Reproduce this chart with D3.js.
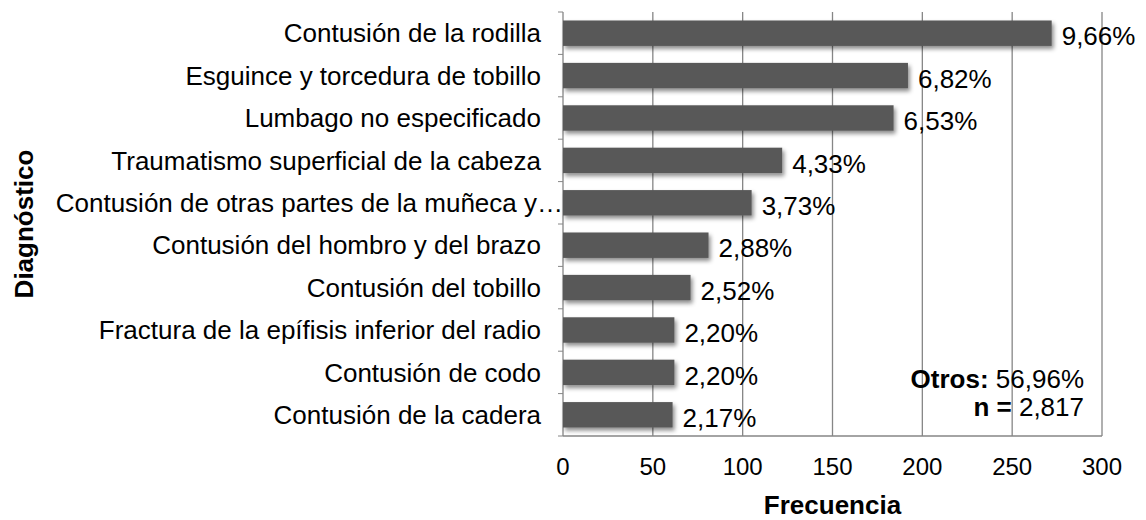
<!DOCTYPE html>
<html>
<head>
<meta charset="utf-8">
<script src="https://cdn.jsdelivr.net/npm/d3@7"></script>
<style>
  body { margin: 0; background: #fff; }
  text { font-family: "Liberation Sans", Arial, sans-serif; fill: #000; }
</style>
</head>
<body>
<div id="cntr"></div>
<script>
const width = 1146;
const height = 520;

// data: share of n = 2817
const diagnosticos = [
    "Contusión de la rodilla",
    "Esguince y torcedura de tobillo",
    "Lumbago no especificado",
    "Traumatismo superficial de la cabeza",
    "Contusión de otras partes de la muñeca y…",
    "Contusión del hombro y del brazo",
    "Contusión del tobillo",
    "Fractura de la epífisis inferior del radio",
    "Contusión de codo",
    "Contusión de la cadera"
];
const porcentajes = [9.66, 6.82, 6.53, 4.33, 3.73, 2.88, 2.52, 2.20, 2.20, 2.17];
const frecuencias = [272, 192, 184, 122, 105, 81, 71, 62, 62, 61];
const xTicks = [0, 50, 100, 150, 200, 250, 300];
const otros = "56,96%";
const nTotal = "2,817";

const margin = {top: 12, right: 44, bottom: 84, left: 563};
const innerW = width - margin.left - margin.right;
const innerH = height - margin.top - margin.bottom;

const svg = d3.select("#cntr")
    .append("svg")
    .attr("width", width)
    .attr("height", height);

const defs = svg.append("defs");
const shadow = defs.append("filter")
    .attr("id", "shadow")
    .attr("x", "-5%").attr("y", "-30%")
    .attr("width", "115%").attr("height", "180%");
shadow.append("feDropShadow")
    .attr("dx", 2).attr("dy", 3)
    .attr("stdDeviation", 2.2)
    .attr("flood-color", "#000")
    .attr("flood-opacity", 0.45);

const g = svg.append("g")
    .attr("transform", `translate(${margin.left},${margin.top})`);

const x = d3.scaleLinear().domain([0, 300]).range([0, innerW]);
const y = d3.scaleBand().domain(diagnosticos).range([0, innerH]).paddingInner(0.4).paddingOuter(0.2);

// grid
g.selectAll("line.grid")
    .data(xTicks)
    .join("line")
        .attr("class", "grid")
        .attr("x1", d => x(d)).attr("x2", d => x(d))
        .attr("y1", 0).attr("y2", innerH)
        .attr("stroke", "#868686")
        .attr("stroke-width", 1.3);

g.append("line")
    .attr("x1", 0).attr("x2", innerW)
    .attr("y1", innerH).attr("y2", innerH)
    .attr("stroke", "#868686")
    .attr("stroke-width", 1.3);

// small ticks on the category axis
const step = innerH / diagnosticos.length;
g.selectAll("line.ytick")
    .data(d3.range(diagnosticos.length + 1))
    .join("line")
        .attr("class", "ytick")
        .attr("x1", -5).attr("x2", 0)
        .attr("y1", i => i * step).attr("y2", i => i * step)
        .attr("stroke", "#868686");

// bars
g.selectAll("rect.bar")
    .data(frecuencias)
    .join("rect")
        .attr("class", "bar")
        .attr("x", 0)
        .attr("y", (d, i) => y(diagnosticos[i]))
        .attr("width", d => x(d))
        .attr("height", y.bandwidth())
        .attr("fill", "#595959")
        .attr("filter", "url(#shadow)");

// value labels
g.selectAll("text.val")
    .data(porcentajes)
    .join("text")
        .attr("class", "val")
        .attr("x", (d, i) => x(frecuencias[i]) + 10)
        .attr("y", (d, i) => y(diagnosticos[i]) + y.bandwidth() / 2 + 3)
        .attr("dy", "0.35em")
        .style("font-size", "26px")
        .text(d => d.toFixed(2).replace(".", ",") + "%");

// category labels (the truncated one runs up to the axis)
g.selectAll("text.cat")
    .data(diagnosticos)
    .join("text")
        .attr("class", "cat")
        .attr("x", d => d.endsWith("…") ? 0 : -22)
        .attr("y", d => y(d) + y.bandwidth() / 2)
        .attr("dy", "0.35em")
        .attr("text-anchor", "end")
        .style("font-size", "26px")
        .text(d => d);

// x tick labels
g.selectAll("text.xt")
    .data(xTicks)
    .join("text")
        .attr("class", "xt")
        .attr("x", d => x(d))
        .attr("y", innerH + 31)
        .attr("dy", "0.35em")
        .attr("text-anchor", "middle")
        .style("font-size", "24px")
        .text(d => d);

g.append("text")
    .attr("x", innerW / 2)
    .attr("y", innerH + 69)
    .attr("dy", "0.35em")
    .attr("text-anchor", "middle")
    .style("font-size", "26px")
    .style("font-weight", "bold")
    .text("Frecuencia");

svg.append("text")
    .attr("transform", `translate(24,${margin.top + innerH / 2}) rotate(-90)`)
    .attr("dy", "0.35em")
    .attr("text-anchor", "middle")
    .style("font-size", "26px")
    .style("font-weight", "bold")
    .text("Diagnóstico");

// note
const note = g.append("text")
    .attr("text-anchor", "end")
    .style("font-size", "26px");
const l1 = note.append("tspan").attr("x", innerW - 18).attr("y", 376);
l1.append("tspan").style("font-weight", "bold").text("Otros: ");
l1.append("tspan").text(otros);
const l2 = note.append("tspan").attr("x", innerW - 18).attr("y", 404);
l2.append("tspan").style("font-weight", "bold").text("n = ");
l2.append("tspan").text(nTotal);
</script>
</body>
</html>
